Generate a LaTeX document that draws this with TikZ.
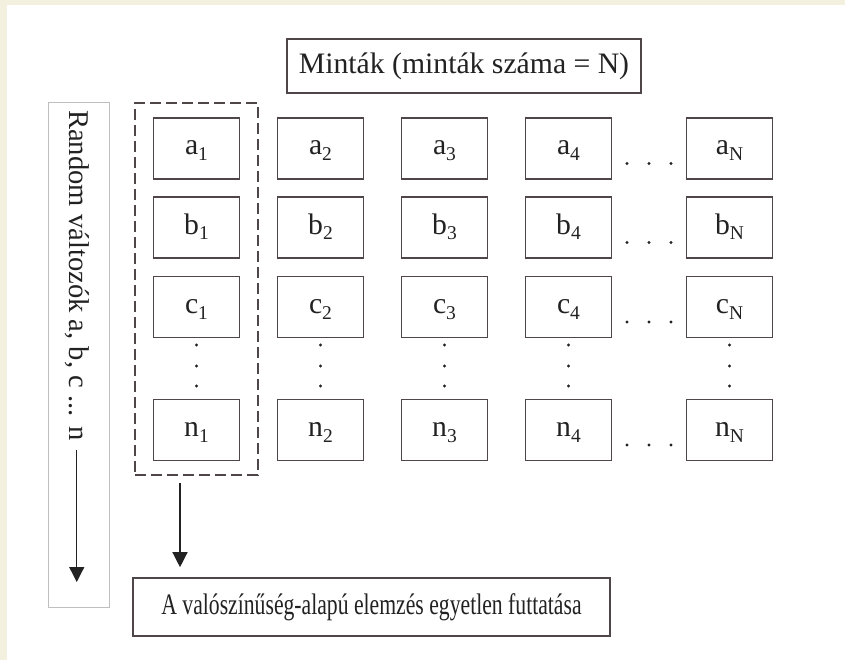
\documentclass[tikz,border=0pt]{standalone}
\usepackage{fontspec}
\setmainfont{Liberation Serif}
\newfontfamily\condfont[FakeStretch=0.73]{Liberation Serif}
\usetikzlibrary{arrows.meta}
\definecolor{cream}{HTML}{F4F0E0}
\definecolor{boxline}{HTML}{4F4747}
\definecolor{txt}{HTML}{222222}
\newcommand\sbs[2]{#1\raisebox{-0.2em}{\fontsize{19.5}{19.5}\selectfont #2}}
\begin{document}
\begin{tikzpicture}[x=1pt,y=-1pt,
  bigfont/.style={font=\fontsize{29.7}{32}\selectfont},
  cell/.style={draw=boxline, line width=1.6pt, minimum width=86pt, minimum height=61pt,
    inner sep=0pt, text=txt, bigfont, text height=20pt, text depth=7pt},
  plainbox/.style={draw=boxline, line width=1.6pt, inner sep=0pt, text=txt, bigfont},
  arr/.style={draw=txt, line width=1.3pt, -{Triangle[width=15pt,length=15pt]}},
  dot/.style={fill=txt}]
\useasboundingbox (0,0) rectangle (845,660);
\fill[cream] (0,0) rectangle (845,660);
\fill[white] (7,5) rectangle (845,660);

% title
\node[plainbox, minimum width=354pt, minimum height=54pt] (title) at (464,66) {Minták (minták száma = N)};

% grid of cells
\foreach \r/\y in {a/148.5,b/227.5,c/307,n/430} {
  \foreach \c/\x/\s in {1/196.5/1,2/320.5/2,3/444.5/3,4/568.5/4,5/729.5/N} {
    \node[cell] (\r\c) at (\x,\y) {\sbs{\r}{\s}};
  }
  \foreach \dx in {627,649,671} {
    \fill[dot] (\dx,{\y+15}) circle (1.6pt);
  }
}
\foreach \x in {196.5,320.5,444.5,568.5,729.5} {
  \foreach \dy in {345,366,386} {
    \fill[dot] (\x,\dy) circle (1.6pt);
  }
}

% dashed group
\node[draw=boxline, line width=1.6pt, dash pattern=on 11pt off 5pt,
  minimum width=123pt, minimum height=372pt, inner sep=0pt] (grp) at (196.5,289) {};

% bottom box
\node[plainbox, minimum width=477pt, minimum height=58pt] (run) at (371.5,607)
  {\condfont A valószínűség-alapú elemzés egyetlen futtatása};

\coordinate (garr) at (180,483);
\draw[arr, shorten >=10pt] (garr) -- (garr |- run.north);

% left vertical box
\node[draw=gray!50, line width=1pt, minimum width=61pt, minimum height=504pt, inner sep=0pt] (rv) at (78.5,355) {};
\node[rotate=-90, anchor=base west, text=txt, font=\fontsize{28.6}{31}\selectfont, inner sep=0pt] (rvtext) at (69,110) {Random változók a, b, c ... n};
\coordinate (rvstart) at ([yshift=-9pt]rvtext.east);
\coordinate (rvtip) at (rvstart |- 0,582);
\draw[arr] (rvstart) -- (rvtip);
\end{tikzpicture}
\end{document}
